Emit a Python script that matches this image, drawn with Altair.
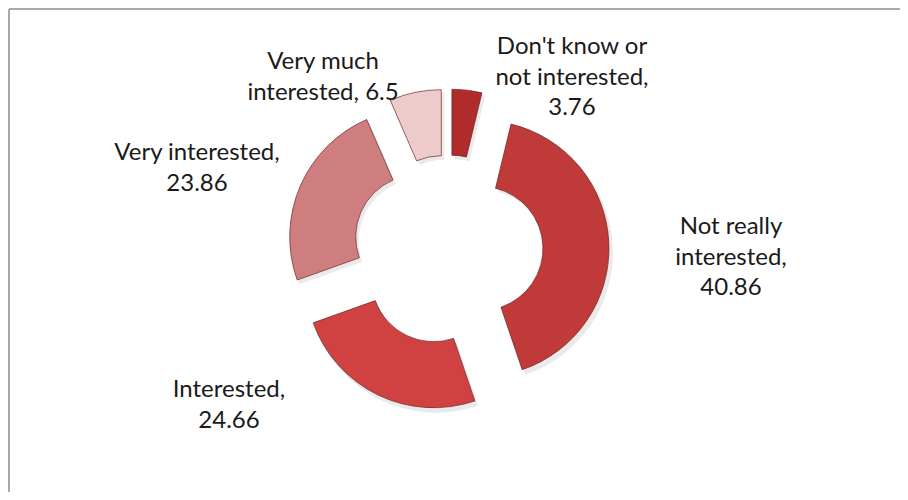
import altair as alt
import pandas as pd

# ---- data ----
categories = [
    "Don't know or not interested",
    "Not really interested",
    "Interested",
    "Very interested",
    "Very much interested",
]
values = [3.76, 40.86, 24.66, 23.86, 6.5]
label_heads = [
    "Don't know or\nnot interested,\n",
    "Not really\ninterested,\n",
    "Interested,\n",
    "Very interested,\n",
    "Very much\ninterested, ",
]
colors = ["#b02c2c", "#c13a3a", "#d04242", "#cf7e80", "#eecbcb"]

# ---- layout ----
W, H = 892, 484
CX, CY = 440, 242
R_OUT, R_IN = 128, 62
EXPLODE = 33
# offsets (from pie centre) of each label's first line
label_dx = [124, 283, -219, -251, -125]
label_dy = [-203, -23, 140, -97, -188]

df = pd.DataFrame({
    "category": categories,
    "value": values,
    "order": list(range(len(values))),
    "label": [h + str(v) for h, v in zip(label_heads, values)],
    "ldx": label_dx,
    "ldy": label_dy,
})

base = alt.Chart(df).transform_joinaggregate(
    total="sum(value)"
).transform_window(
    cum="sum(value)", sort=[alt.SortField("order")], frame=[None, 0]
).transform_calculate(
    t0="(datum.cum - datum.value) / datum.total * 2 * PI",
    t1="datum.cum / datum.total * 2 * PI",
    tm="(datum.t0 + datum.t1) / 2",
    cx=f"{CX} + {EXPLODE} * sin(datum.tm)",
    cy=f"{CY} - {EXPLODE} * cos(datum.tm)",
    sx="datum.cx + 3",
    sy="datum.cy + 4",
    lx=f"{CX} + datum.ldx",
    ly=f"{CY} + datum.ldy",
)

shadow = base.mark_arc(
    innerRadius=R_IN, outerRadius=R_OUT + 1, color="#888888", opacity=0.18
).encode(
    theta=alt.Theta("t0:Q", scale=None),
    theta2="t1:Q",
    x=alt.X("sx:Q", scale=None, axis=None),
    y=alt.Y("sy:Q", scale=None, axis=None),
)

arcs = base.mark_arc(
    innerRadius=R_IN, outerRadius=R_OUT, stroke="#6e2222", strokeOpacity=0.7, strokeWidth=1
).encode(
    theta=alt.Theta("t0:Q", scale=None),
    theta2="t1:Q",
    x=alt.X("cx:Q", scale=None, axis=None),
    y=alt.Y("cy:Q", scale=None, axis=None),
    color=alt.Color("category:N", scale=alt.Scale(domain=categories, range=colors), legend=None),
)

labels = base.mark_text(
    font="Lato", fontSize=24, lineHeight=30.5, lineBreak="\n",
    align="center", baseline="middle", color="#1a1a1a",
).encode(
    x=alt.X("lx:Q", scale=None, axis=None),
    y=alt.Y("ly:Q", scale=None, axis=None),
    text="label:N",
)

frame_src = alt.Chart(pd.DataFrame({"k": [0]}))
top_rule = frame_src.mark_rule(color="#8c8c8c", strokeWidth=1.5).encode(
    x=alt.value(1), x2=alt.value(W), y=alt.value(1)
)
left_rule = frame_src.mark_rule(color="#8c8c8c", strokeWidth=1.5).encode(
    x=alt.value(1), y=alt.value(1), y2=alt.value(H)
)

chart = alt.layer(top_rule, left_rule, shadow, arcs, labels).properties(
    width=W, height=H, padding=0,
    autosize=alt.AutoSizeParams(type="none"),
).configure_view(stroke=None)

chart.save("out.html", embed_options={"renderer": "svg", "actions": False})
